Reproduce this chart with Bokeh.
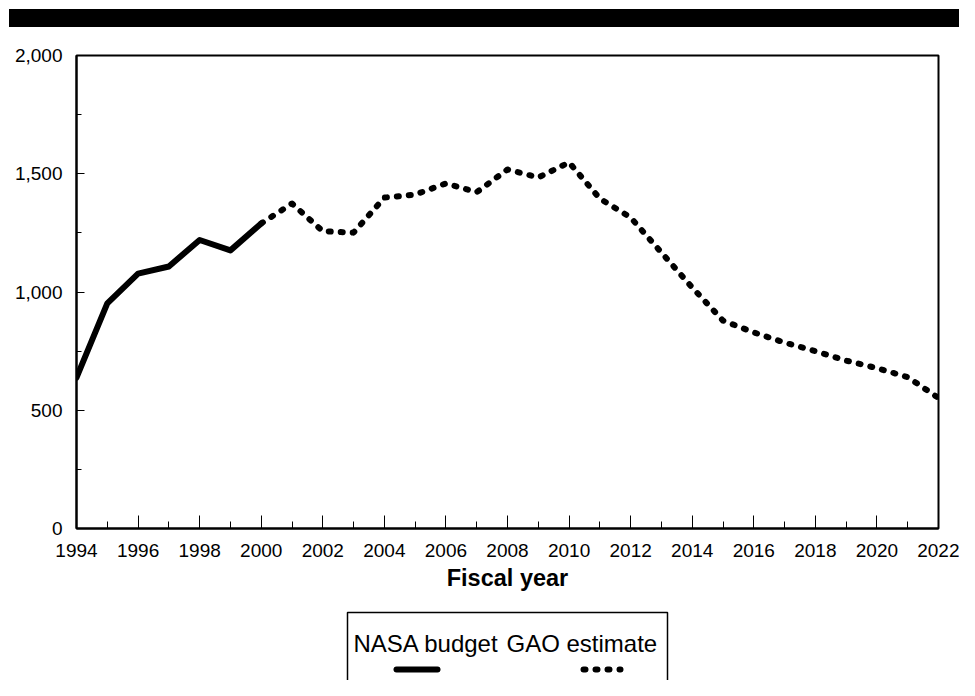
from bokeh.plotting import figure
from bokeh.layouts import column
from bokeh.models import FixedTicker, NumeralTickFormatter, Range1d, Div
from bokeh.core.properties import value
from bokeh.embed import file_html
from bokeh.resources import INLINE

# ---- data ----
budget_years = [1994, 1995, 1996, 1997, 1998, 1999, 2000]
budget_values = [638, 952, 1078, 1108, 1220, 1176, 1290]

estimate_years = [2001, 2002, 2003, 2004, 2005, 2006, 2007, 2008, 2009, 2010, 2011,
                  2012, 2013, 2014, 2015, 2016, 2017, 2018, 2019, 2020, 2021, 2022]
estimate_values = [1374, 1257, 1251, 1399, 1412, 1459, 1422, 1518, 1484, 1548, 1395,
                   1315, 1167, 1019, 879, 829, 786, 750, 710, 678, 640, 552]

x_ticks = list(range(1994, 2023, 2))
x_minor_ticks = list(range(1994, 2023))
y_ticks = [0, 500, 1000, 1500, 2000]
y_minor_ticks = [250, 750, 1250, 1750]

legend_labels = ["NASA budget", "GAO estimate"]
x_label = "Fiscal year"

FONT = "Liberation Sans"
W = 959
FL, FR = 76, 938          # frame left / right (pixels)

# ---- black header bar ----
header = Div(text="", width=950, height=18, margin=(9, 0, 0, 9),
             styles={"background-color": "black"})

# ---- main chart ----
p = figure(width=W, height=573, x_range=(1994, 2022), y_range=(0, 2000),
           output_backend="svg", toolbar_location=None, title=None,
           min_border_left=FL, min_border_right=W - FR, min_border_top=28,
           min_border_bottom=72, margin=0)
p.background_fill_color = "white"
p.border_fill_color = "white"
p.outline_line_color = "black"
p.outline_line_width = 2
p.xgrid.visible = False
p.ygrid.visible = False

for ax in (p.xaxis[0], p.yaxis[0]):
    ax.axis_line_color = "black"
    ax.axis_line_width = 2
    ax.major_tick_line_color = "black"
    ax.minor_tick_line_color = "black"
    ax.major_tick_line_width = 1
    ax.minor_tick_line_width = 1
    ax.major_tick_out = 0
    ax.minor_tick_out = 0
    ax.major_label_text_font = FONT
    ax.major_label_text_font_size = "19px"
    ax.major_label_text_color = "black"

p.xaxis.ticker = FixedTicker(ticks=x_ticks, minor_ticks=x_minor_ticks)
p.xaxis.major_tick_in = 13
p.xaxis.minor_tick_in = 7
p.xaxis.major_label_standoff = 15
p.xaxis.axis_label = x_label
p.xaxis.axis_label_text_font = FONT
p.xaxis.axis_label_text_font_size = "23.5px"
p.xaxis.axis_label_text_font_style = "bold"
p.xaxis.axis_label_text_color = "black"
p.xaxis.axis_label_standoff = 5

p.yaxis.ticker = FixedTicker(ticks=y_ticks, minor_ticks=y_minor_ticks)
p.yaxis.formatter = NumeralTickFormatter(format="0,0")
p.yaxis.major_tick_in = 8
p.yaxis.minor_tick_in = 5
p.yaxis.major_label_standoff = 14

p.line(budget_years, budget_values, line_color="black", line_width=6,
       line_join="round", line_cap="round")
est_x = [budget_years[-1]] + estimate_years
est_y = [budget_values[-1]] + estimate_values
p.line(est_x, est_y, line_color="black", line_width=6, line_dash="2 10",
       line_cap="round", line_join="round")

# ---- legend panel (pixel coordinates, y downward; frame aligned with chart) ----
LH = 80
leg = figure(width=W, height=LH, x_axis_type=None, y_axis_type=None,
             x_range=Range1d(FL, FR), y_range=Range1d(LH, 0),
             toolbar_location=None, output_backend="svg", title=None,
             min_border_left=FL, min_border_right=W - FR,
             min_border_top=0, min_border_bottom=0, margin=0)
leg.outline_line_color = None
leg.background_fill_color = "white"
leg.border_fill_color = "white"
leg.xgrid.visible = False
leg.ygrid.visible = False

# box: left, top and right sides (bottom lies beyond the page)
leg.line([347, 347, 667, 667], [LH + 20, 12, 12, LH + 20],
         line_color="black", line_width=1.5)
leg.text(x=[353, 506], y=[43, 43], text=legend_labels,
         text_font=value(FONT), text_font_size=value("24px"),
         text_align="left", text_baseline="alphabetic", text_color="black")
leg.line([396, 437], [69, 69], line_color="black", line_width=6, line_cap="round")
leg.line([583, 620], [69, 69], line_color="black", line_width=6,
         line_dash="2 10", line_cap="round")

layout = column(header, p, leg, spacing=0)
open("out.html", "w").write(file_html(layout, INLINE))
